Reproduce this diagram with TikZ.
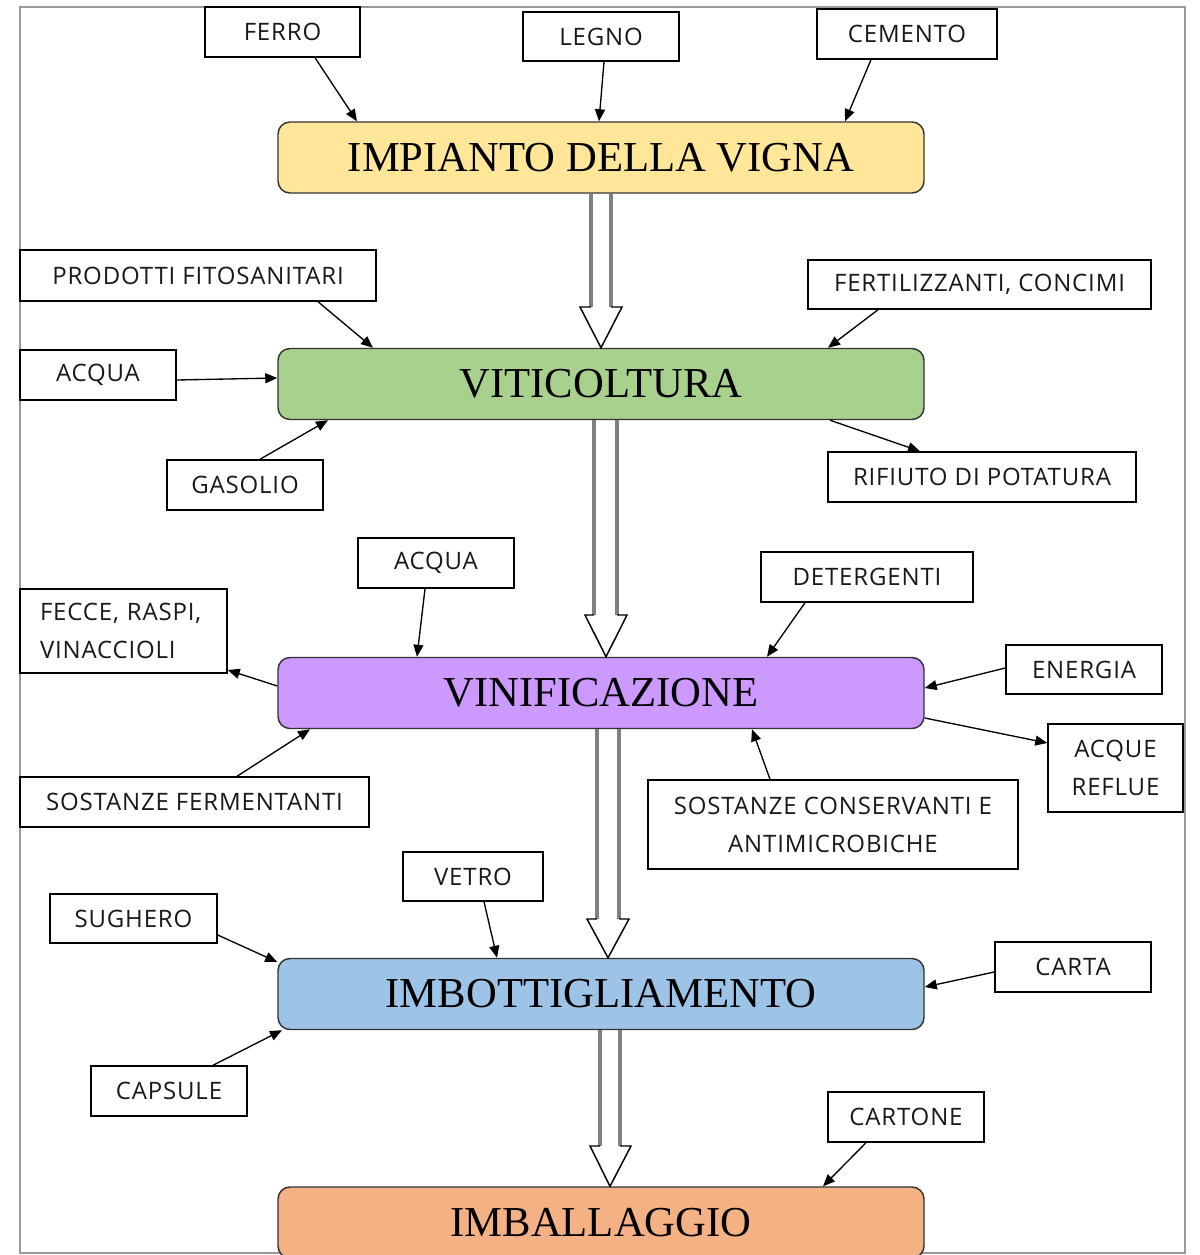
\documentclass[tikz,border=0pt]{standalone}
\usepackage{fontspec}
\setmainfont{Liberation Serif}
\newfontfamily\smallfont[LetterSpace=3.5]{Open Sans}
\usetikzlibrary{arrows.meta}
\definecolor{cyellow}{HTML}{FFE699}
\definecolor{cgreen}{HTML}{A9D18E}
\definecolor{cpurple}{HTML}{CC99FF}
\definecolor{cblue}{HTML}{9DC3E6}
\definecolor{corange}{HTML}{F4B183}
\begin{document}
\begin{tikzpicture}[x=0.75pt,y=-0.75pt,
  sbox/.style={draw=black, line width=1.1pt, fill=white, inner sep=0pt, align=center,
    font=\smallfont\fontsize{18}{28.5}\selectfont, text=black!90},
  mbox/.style={draw=black!80, line width=1.1pt, rounded corners=9pt,
    minimum width=646*0.75pt, minimum height=71*0.75pt, inner sep=0pt,
    font=\fontsize{32}{36}\selectfont},
  arr/.style={-{Triangle[length=9pt,width=7.5pt]}, line width=1pt},
  shaft/.style={draw=black!50, line width=2.4pt},
  head/.style={draw=black, line width=1.1pt, fill=white, line join=miter}]
\clip (0,0) rectangle (1199,1255);
\useasboundingbox (0,0) rectangle (1199,1255);
\fill[white] (0,0) rectangle (1199,1255);
% frame
\draw[black!40, line width=1.5pt] (20,7) rectangle (1185,1253);

% main boxes
\node[mbox, fill=cyellow] (imp) at (601,157.5) {IMPIANTO DELLA VIGNA};
\node[mbox, fill=cgreen] (viti) at (601,384) {VITICOLTURA};
\node[mbox, fill=cpurple] (vinif) at (601,693) {VINIFICAZIONE};
\node[mbox, fill=cblue] (imbott) at (601,994) {IMBOTTIGLIAMENTO};
\node[mbox, fill=corange] (imball) at (601,1222.5) {IMBALLAGGIO};

% small boxes
\node[sbox, minimum width=155*0.75pt, minimum height=50*0.75pt] (ferro) at (282.5,32) {FERRO};
\node[sbox, minimum width=156*0.75pt, minimum height=49*0.75pt] (legno) at (601,36.5) {LEGNO};
\node[sbox, minimum width=180*0.75pt, minimum height=50*0.75pt] (cemento) at (907,34) {CEMENTO};
\node[sbox, minimum width=356*0.75pt, minimum height=51*0.75pt] (prod) at (198,275.5) {PRODOTTI FITOSANITARI};
\node[sbox, minimum width=343*0.75pt, minimum height=49*0.75pt] (fert) at (979.5,284.5) {FERTILIZZANTI, CONCIMI};
\node[sbox, minimum width=156*0.75pt, minimum height=50*0.75pt] (acqua) at (98,375) {ACQUA};
\node[sbox, minimum width=156*0.75pt, minimum height=50*0.75pt] (gasolio) at (245,485) {GASOLIO};
\node[sbox, minimum width=308*0.75pt, minimum height=50*0.75pt] (rifiuto) at (982,477) {RIFIUTO DI POTATURA};
\node[sbox, minimum width=156*0.75pt, minimum height=50*0.75pt] (acquab) at (436,563) {ACQUA};
\node[sbox, minimum width=212*0.75pt, minimum height=50*0.75pt] (deterg) at (867,577) {DETERGENTI};
\node[sbox, align=left, text width=167*0.75pt, minimum width=207*0.75pt, minimum height=84*0.75pt] (fecce) at (123.5,631) {FECCE, RASPI,\\VINACCIOLI};
\node[sbox, minimum width=156*0.75pt, minimum height=49*0.75pt] (energia) at (1084,669.5) {ENERGIA};
\node[sbox, minimum width=135*0.75pt, minimum height=88*0.75pt] (reflue) at (1115.5,768) {ACQUE\\REFLUE};
\node[sbox, minimum width=349*0.75pt, minimum height=50*0.75pt] (ferm) at (194.5,802) {SOSTANZE FERMENTANTI};
\node[sbox, minimum width=370*0.75pt, minimum height=89*0.75pt] (cons) at (833,824.5) {SOSTANZE CONSERVANTI E\\ANTIMICROBICHE};
\node[sbox, minimum width=140*0.75pt, minimum height=49*0.75pt] (vetro) at (473,876.5) {VETRO};
\node[sbox, minimum width=167*0.75pt, minimum height=49*0.75pt] (sughero) at (133.5,918.5) {SUGHERO};
\node[sbox, minimum width=156*0.75pt, minimum height=50*0.75pt] (carta) at (1073,967) {CARTA};
\node[sbox, minimum width=156*0.75pt, minimum height=50*0.75pt] (capsule) at (169,1091) {CAPSULE};
\node[sbox, minimum width=156*0.75pt, minimum height=50*0.75pt] (cartone) at (906,1117) {CARTONE};

% thin arrows
\draw[arr] (ferro.south -| 315,0) -- (imp.north -| 357,0);
\draw[arr] (legno.south -| 604,0) -- (imp.north -| 599,0);
\draw[arr] (cemento.south -| 871,0) -- (imp.north -| 845,0);
\draw[arr] (prod.south -| 318,0) -- (viti.north -| 373,0);
\draw[arr] (fert.south -| 878,0) -- (viti.north -| 828,0);
\draw[arr] (acqua.east |- 0,380) -- (viti.west |- 0,378);
\draw[arr] (gasolio.north -| 260,0) -- (viti.south -| 328,0);
\draw[arr] (viti.south -| 830,0) -- (rifiuto.north -| 920,0);
\draw[arr] (acquab.south -| 425,0) -- (vinif.north -| 417,0);
\draw[arr] (deterg.south -| 805,0) -- (vinif.north -| 767,0);
\draw[arr] (vinif.west |- 0,686) -- (fecce.east |- 0,670);
\draw[arr] (energia.west |- 0,668) -- (vinif.east |- 0,688);
\draw[arr] (vinif.east |- 0,718) -- (reflue.west |- 0,743);
\draw[arr] (ferm.north -| 237,0) -- (vinif.south -| 310,0);
\draw[arr] (cons.north -| 770,0) -- (vinif.south -| 752,0);
\draw[arr] (vetro.south -| 484,0) -- (imbott.north -| 497,0);
\draw[arr] (sughero.east |- 0,935) -- (imbott.west |- 0,962);
\draw[arr] (carta.west |- 0,972) -- (imbott.east |- 0,987);
\draw[arr] (capsule.north -| 213,0) -- (imbott.south -| 282,0);
\draw[arr] (cartone.south -| 866,0) -- (imball.north -| 823,0);

% big hollow arrows
\draw[shaft] (imp.south -| 591,0) -- (591,307) (imp.south -| 611,0) -- (611,307);
\draw[head] (591,307) -- (580,307) -- (viti.north -| 601,0) -- (622,307) -- (611,307);
\draw[shaft] (viti.south -| 594,0) -- (594,615) (viti.south -| 617,0) -- (617,615);
\draw[head] (594,615) -- (585,615) -- (vinif.north -| 606,0) -- (627,615) -- (617,615);
\draw[shaft] (vinif.south -| 597,0) -- (597,919) (vinif.south -| 619,0) -- (619,919);
\draw[head] (597,919) -- (587,919) -- (imbott.north -| 608,0) -- (629,919) -- (619,919);
\draw[shaft] (imbott.south -| 600,0) -- (600,1146) (imbott.south -| 620,0) -- (620,1146);
\draw[head] (600,1146) -- (590,1146) -- (imball.north -| 610,0) -- (631,1146) -- (620,1146);
\end{tikzpicture}
\end{document}
